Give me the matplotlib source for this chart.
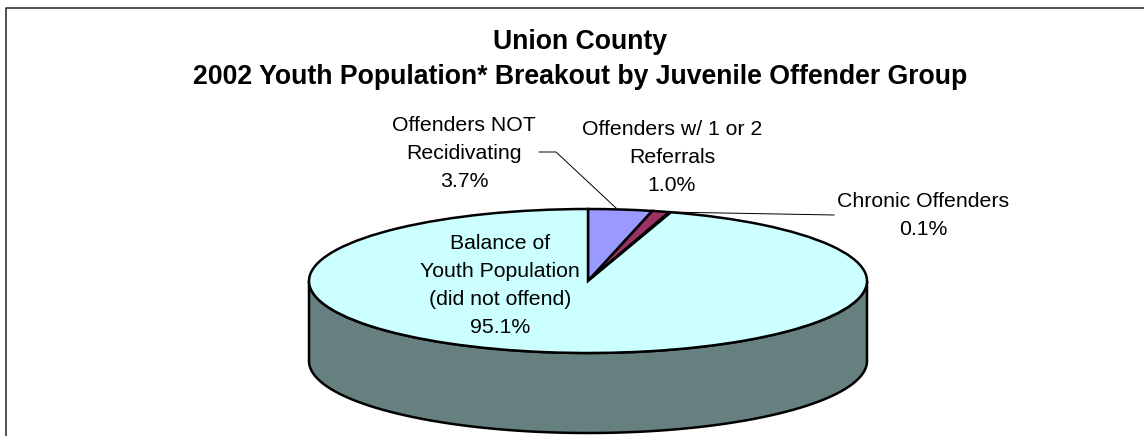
import matplotlib
matplotlib.use('Agg')
import numpy as np
import matplotlib.pyplot as plt

plt.rcParams['font.family'] = ['Liberation Sans', 'DejaVu Sans']

W, H = 1144, 436

title = 'Union County\n2002 Youth Population* Breakout by Juvenile Offender Group'
labels = ['Offenders NOT\nRecidivating\n3.7%',
          'Offenders w/ 1 or 2\nReferrals\n1.0%',
          'Chronic Offenders\n0.1%',
          'Balance of\nYouth Population\n(did not offend)\n95.1%']
values = [3.7, 1.0, 0.1, 95.1]
colors = ['#9999ff', '#993366', '#ffffcc', '#ccffff']

# pie ellipse in pixels
cx, cy, rx, ry, depth = 588, 281, 279, 72, 80

fig = plt.figure(figsize=(W / 100, H / 100), dpi=100, facecolor='white')

# overlay in pixel coords for frame, leader lines, text
bg = fig.add_axes([0, 0, 1, 1])
bg.set_xlim(0, W)
bg.set_ylim(H, 0)
bg.axis('off')
bg.plot([6, 6, W], [H, 8.5, 8.5], color='#222222', lw=1.1)

# stretched axes so the round pie comes out as an ellipse
ax = fig.add_axes([(cx - rx) / W, 1 - (cy + ry) / H, 2 * rx / W, 2 * ry / H])
ax.patch.set_alpha(0)
t = np.linspace(np.pi, 2 * np.pi, 200)
d = depth / ry
ax.fill(np.r_[np.cos(t), np.cos(t[::-1])], np.r_[np.sin(t), np.sin(t[::-1]) - d],
        facecolor='#667f7f', edgecolor='black', lw=1.8, clip_on=False, zorder=1)
wedges, _ = ax.pie(values, colors=colors, startangle=90, counterclock=False, radius=1,
                   wedgeprops=dict(edgecolor='black', linewidth=1.8, clip_on=False))
ax.set_xlim(-1, 1)
ax.set_ylim(-1, 1)
ax.set_aspect('auto')
ax.axis('off')

over = fig.add_axes([0, 0, 1, 1])
over.set_xlim(0, W)
over.set_ylim(H, 0)
over.axis('off')
over.patch.set_alpha(0)
over.plot([539, 556, 616], [152, 152, 208], color='black', lw=0.7)
over.plot([667, 834], [212, 215], color='black', lw=0.7)

over.text(580, 59.5, title, ha='center', va='center', fontsize=19.2, fontweight='bold',
          linespacing=1.45)
fs = 15.3
ls = 1.6
over.text(464, 153, labels[0], ha='center', va='center', fontsize=fs, linespacing=ls)
over.text(672, 157, labels[1], ha='center', va='center', fontsize=fs, linespacing=ls)
over.text(923, 215, labels[2], ha='center', va='center', fontsize=fs, linespacing=ls)
over.text(500, 285, labels[3], ha='center', va='center', fontsize=fs, linespacing=ls)

fig.savefig('out.png', dpi=100)
